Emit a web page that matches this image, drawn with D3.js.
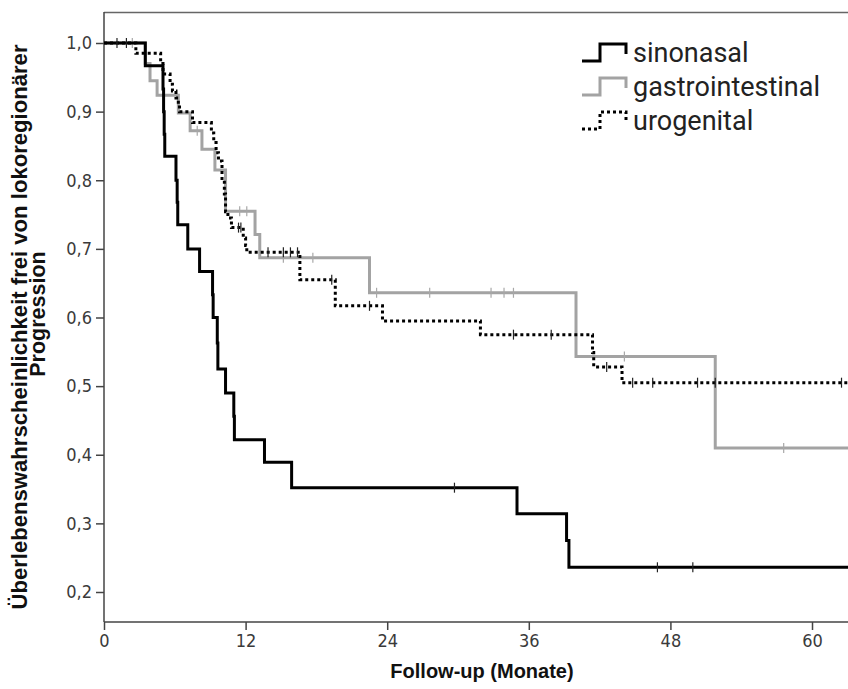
<!DOCTYPE html>
<html>
<head>
<meta charset="utf-8">
<script src="https://cdn.jsdelivr.net/npm/d3@7"></script>
<style>
  html, body { margin: 0; padding: 0; background: #fff; }
  svg { display: block; font-family: "Liberation Sans", Arial, sans-serif; }
</style>
</head>
<body>
<svg id="chart" width="848" height="689"></svg>
<script>
// Kaplan-Meier estimates: event times (months) and survival after each step
const sinonasalTime = [3.5, 5.0, 5.05, 5.1, 5.15, 6.1, 6.2, 6.25, 7.1, 8.1, 9.2, 9.25, 9.6, 9.65, 10.3, 11.0, 11.05, 13.6, 15.9, 35.0, 39.2, 39.4];
const sinonasalSurv = [0.967, 0.933, 0.9, 0.867, 0.835, 0.80, 0.768, 0.735, 0.70, 0.667, 0.633, 0.60, 0.563, 0.525, 0.49, 0.456, 0.422, 0.389, 0.352, 0.314, 0.275, 0.236];
const sinonasalCensored = [29.7, 46.9, 49.9];

const gastroTime = [3.5, 3.9, 4.5, 6.3, 7.3, 8.3, 9.4, 10.3, 12.8, 13.2, 22.5, 40.0, 51.8];
const gastroSurv = [0.97, 0.945, 0.924, 0.898, 0.872, 0.845, 0.815, 0.755, 0.721, 0.687, 0.636, 0.543, 0.41];
const gastroCensored = [2.4, 7.9, 11.5, 12.1, 15.2, 17.7, 23.1, 27.6, 32.8, 33.9, 34.7, 44.1, 57.6];

const uroTime = [2.7, 4.8, 5.0, 5.6, 5.8, 6.1, 6.3, 6.4, 7.5, 9.1, 9.3, 9.5, 9.7, 10.0, 10.2, 10.3, 10.5, 10.8, 11.8, 12.0, 12.1, 16.6, 19.6, 23.6, 31.9, 41.4, 41.5, 43.9];
const uroSurv = [0.985, 0.97, 0.955, 0.94, 0.93, 0.92, 0.91, 0.90, 0.884, 0.869, 0.855, 0.84, 0.828, 0.80, 0.78, 0.754, 0.745, 0.731, 0.716, 0.705, 0.695, 0.655, 0.617, 0.595, 0.575, 0.549, 0.528, 0.505];
const uroCensored = [1.1, 1.9, 11.4, 11.6, 13.9, 15.2, 15.8, 16.4, 19.3, 22.5, 34.7, 37.9, 42.6, 44.8, 46.5, 50.3, 51.8, 62.5];

const xTicks = [0, 12, 24, 36, 48, 60];
const yTicks = [0.2, 0.3, 0.4, 0.5, 0.6, 0.7, 0.8, 0.9, 1.0];
const seriesNames = ["sinonasal", "gastrointestinal", "urogenital"];
const followUpEnd = 64;

const svg = d3.select("#chart");
const plotLeft = 104, plotRight = 848, plotTop = 12, plotBottom = 622;
const tickFont = "'Liberation Sans Narrow', 'DejaVu Sans Condensed', Arial, sans-serif";

const x = d3.scaleLinear().domain([0, 63.05]).range([plotLeft, plotRight]);
const y = d3.scaleLinear().domain([0.2, 1.0]).range([592, 43]);

// frame: top border line
svg.append("line")
  .attr("x1", plotLeft).attr("x2", plotRight).attr("y1", plotTop + 0.5).attr("y2", plotTop + 0.5)
  .attr("stroke", "#666").attr("stroke-width", 1.5);

// y axis
const yAxis = d3.axisLeft(y).tickValues(yTicks).tickSize(8).tickPadding(4)
  .tickFormat(d => d3.format(".1f")(d).replace(".", ","));
const gy = svg.append("g").attr("transform", `translate(${plotLeft},0)`).call(yAxis);
gy.select(".domain").remove();
gy.append("line").attr("x1", 0).attr("x2", 0).attr("y1", plotTop).attr("y2", plotBottom)
  .attr("stroke", "#444").attr("stroke-width", 1.5);
gy.selectAll(".tick line").attr("stroke", "#444").attr("stroke-width", 1.5);
gy.selectAll(".tick text").attr("font-size", 18).attr("fill", "#3a3a3a")
  .attr("font-family", tickFont);

// x axis
const xAxis = d3.axisBottom(x).tickValues(xTicks).tickSize(8).tickPadding(4).tickFormat(d3.format("d"));
const gx = svg.append("g").attr("transform", `translate(0,${plotBottom})`).call(xAxis);
gx.select(".domain").remove();
gx.append("line").attr("x1", plotLeft).attr("x2", plotRight).attr("y1", 0).attr("y2", 0)
  .attr("stroke", "#444").attr("stroke-width", 1.5);
gx.selectAll(".tick line").attr("stroke", "#444").attr("stroke-width", 1.5);
gx.selectAll(".tick text").attr("font-size", 18).attr("fill", "#3a3a3a")
  .attr("font-family", tickFont);

// axis titles
svg.append("text")
  .attr("x", 482).attr("y", 678).attr("text-anchor", "middle")
  .attr("font-weight", "bold").attr("font-size", 20).attr("fill", "#111")
  .text("Follow-up (Monate)");
svg.append("text")
  .attr("transform", "translate(27,327) rotate(-90)").attr("text-anchor", "middle")
  .attr("font-weight", "bold").attr("font-size", 21.5).attr("fill", "#111")
  .attr("textLength", 565).attr("lengthAdjust", "spacingAndGlyphs")
  .text("Überlebenswahrscheinlichkeit frei von lokoregionärer");
svg.append("text")
  .attr("transform", "translate(45,314) rotate(-90)").attr("text-anchor", "middle")
  .attr("font-weight", "bold").attr("font-size", 21.5).attr("fill", "#111")
  .text("Progression");

// clip curves to the plotting area
svg.append("defs").append("clipPath").attr("id", "plotClip")
  .append("rect").attr("x", plotLeft).attr("y", plotTop)
  .attr("width", plotRight - plotLeft).attr("height", plotBottom - plotTop);

const plot = svg.append("g").attr("clip-path", "url(#plotClip)");

const stepLine = d3.line().x(d => x(d[0])).y(d => y(d[1])).curve(d3.curveStepAfter);

function stepPoints(times, surv) {
  const pts = [[0, 1]];
  times.forEach((t, i) => pts.push([t, surv[i]]));
  pts.push([followUpEnd, surv[surv.length - 1]]);
  return pts;
}
function survivalAt(times, surv, t) {
  const i = d3.bisectRight(times, t);
  return i === 0 ? 1 : surv[i - 1];
}

const series = [
  { name: "gastrointestinal", times: gastroTime, surv: gastroSurv, cens: gastroCensored, color: "#a3a3a3", dash: null, tickColor: "#a8a8a8" },
  { name: "sinonasal", times: sinonasalTime, surv: sinonasalSurv, cens: sinonasalCensored, color: "#000", dash: null, tickColor: "#222" },
  { name: "urogenital", times: uroTime, surv: uroSurv, cens: uroCensored, color: "#000", dash: "3,3", tickColor: "#222" }
];

series.forEach(s => {
  plot.append("path")
    .datum(stepPoints(s.times, s.surv))
    .attr("d", stepLine)
    .attr("fill", "none")
    .attr("stroke", s.color)
    .attr("stroke-width", 3)
    .attr("stroke-dasharray", s.dash);
  plot.selectAll(null)
    .data(s.cens)
    .enter().append("line")
    .attr("x1", d => x(d)).attr("x2", d => x(d))
    .attr("y1", d => y(survivalAt(s.times, s.surv, d)) - 5)
    .attr("y2", d => y(survivalAt(s.times, s.surv, d)) + 5)
    .attr("stroke", s.tickColor).attr("stroke-width", 1.2);
});

// legend with small step glyphs
const legendStyles = [
  { color: "#000", dash: null },
  { color: "#a3a3a3", dash: null },
  { color: "#000", dash: "3,3" }
];
const legend = svg.append("g").attr("transform", "translate(582,0)");
seriesNames.forEach((name, i) => {
  const baseY = 61 + i * 34;
  legend.append("path")
    .attr("d", `M0,${baseY} H18 V${baseY - 17} H44 V${baseY - 7}`)
    .attr("fill", "none")
    .attr("stroke", legendStyles[i].color)
    .attr("stroke-width", 3)
    .attr("stroke-dasharray", legendStyles[i].dash);
  legend.append("text")
    .attr("x", 51).attr("y", baseY + 1)
    .attr("font-family", "Roboto, 'Liberation Sans', Arial, sans-serif")
    .attr("font-size", 27).attr("fill", "#222")
    .text(name);
});
</script>
</body>
</html>
